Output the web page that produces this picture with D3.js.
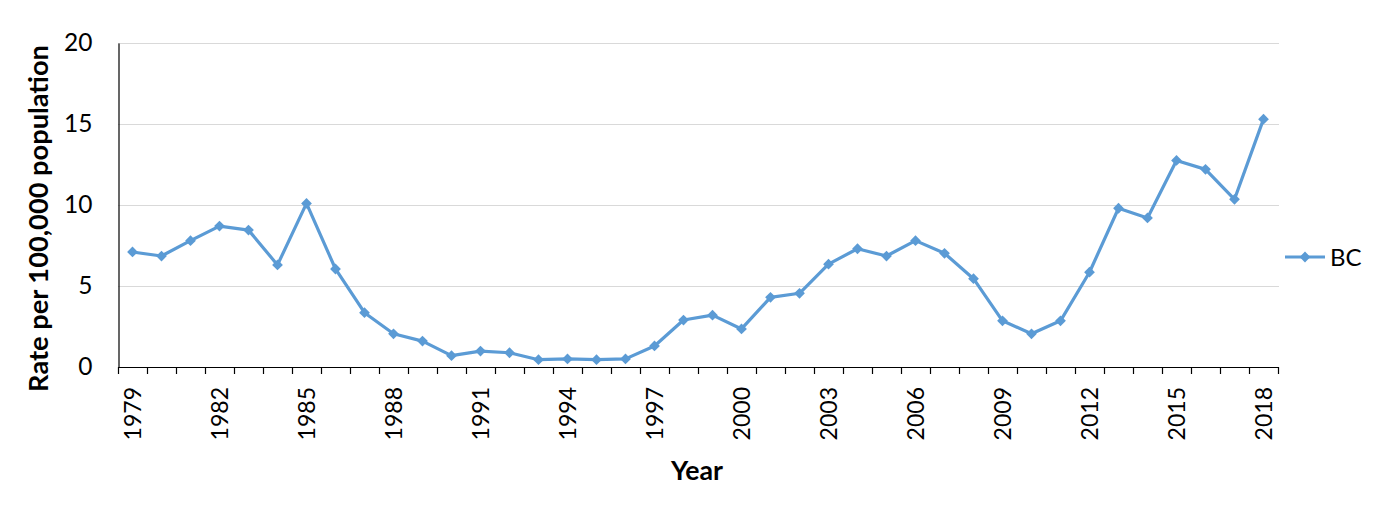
<!DOCTYPE html>
<html>
<head>
<meta charset="utf-8">
<script src="https://cdn.jsdelivr.net/npm/d3@7"></script>
<style>
  html, body { margin: 0; padding: 0; background: #fff; }
  svg { display: block; }
  text { font-family: Lato, "Open Sans", sans-serif; fill: #000; }
</style>
</head>
<body>
<svg id="chart" width="1382" height="514"></svg>
<script>
const years = d3.range(1979, 2019).map(String);
const bcValues = [7.1, 6.85, 7.8, 8.7, 8.45, 6.3, 10.1, 6.05, 3.35, 2.05,
                  1.6, 0.7, 0.98, 0.88, 0.45, 0.5, 0.45, 0.5, 1.3, 2.9,
                  3.2, 2.35, 4.3, 4.55, 6.35, 7.3, 6.85, 7.8, 7.02, 5.45,
                  2.85, 2.05, 2.85, 5.85, 9.8, 9.2, 12.75, 12.2, 10.35, 15.3];
const yTicks = [0, 5, 10, 15, 20];
const yearLabels = years.filter((d, i) => i % 3 === 0);
const seriesName = "BC";
const yTitle = "Rate per 100,000 population";
const xTitle = "Year";

(function () {
const svg = d3.select("#chart");
const mLeft = 118, mRight = 1278, mTop = 43, mBottom = 367;
const color = "#5B9BD5";

const x = d3.scaleBand().domain(years).range([mLeft, mRight]).paddingInner(0).paddingOuter(0);
const y = d3.scaleLinear().domain([0, 20]).range([mBottom, mTop]);

// gridlines
svg.append("g").selectAll("line").data(yTicks.filter(d => d > 0)).join("line")
  .attr("x1", mLeft).attr("x2", mRight + 1)
  .attr("y1", d => Math.round(y(d)) + 0.5).attr("y2", d => Math.round(y(d)) + 0.5)
  .attr("stroke", "#D9D9D9").attr("stroke-width", 1);

// y axis
const yAxis = svg.append("g").attr("transform", `translate(${mLeft + 0.5},0)`)
  .call(d3.axisLeft(y).tickValues(yTicks).tickSize(0).tickPadding(26));
yAxis.select(".domain").attr("stroke", "#000").attr("stroke-width", 1.2);
yAxis.selectAll("text").style("font-size", "24.5px").attr("fill", "#000");

// x axis
const boundaries = d3.range(0, years.length + 1);
const gx = svg.append("g");
gx.append("line").attr("x1", mLeft).attr("x2", mRight + 1)
  .attr("y1", mBottom + 0.5).attr("y2", mBottom + 0.5).attr("stroke", "#000").attr("stroke-width", 1.2);
gx.selectAll("line.tick").data(boundaries).join("line").attr("class", "tick")
  .attr("x1", i => Math.round(mLeft + i * x.step()) + 0.5)
  .attr("x2", i => Math.round(mLeft + i * x.step()) + 0.5)
  .attr("y1", mBottom).attr("y2", mBottom + 7)
  .attr("stroke", "#000").attr("stroke-width", 1.2);
gx.selectAll("text").data(yearLabels).join("text")
  .attr("transform", d => `translate(${x(d) + x.bandwidth() / 2},${mBottom + 20}) rotate(-90)`)
  .attr("text-anchor", "end").attr("dy", "0.36em")
  .style("font-size", "23px").text(d => d);

// line
const line = d3.line().x((d, i) => x(years[i]) + x.bandwidth() / 2).y(d => y(d));
svg.append("path").datum(bcValues).attr("d", line)
  .attr("fill", "none").attr("stroke", color).attr("stroke-width", 3.2).attr("stroke-linejoin", "round");

const diamond = d3.symbol().type(d3.symbolSquare).size(58);
svg.append("g").selectAll("path").data(bcValues).join("path")
  .attr("d", diamond)
  .attr("transform", (d, i) => `translate(${x(years[i]) + x.bandwidth() / 2},${y(d)}) rotate(45)`)
  .attr("fill", color);

// axis titles
function fit(sel, target) {
  const len = sel.node().getComputedTextLength();
  const fs = parseFloat(sel.style("font-size"));
  sel.style("font-size", (fs * target / len) + "px");
}
const yt = svg.append("text")
  .attr("transform", `translate(48,${(45 + 392) / 2}) rotate(-90)`)
  .attr("text-anchor", "middle").style("font-weight", "bold").style("font-size", "21px").text(yTitle);
fit(yt, 347);
const xt = svg.append("text").attr("x", 697).attr("y", 480)
  .attr("text-anchor", "middle").style("font-weight", "bold").style("font-size", "22px").text(xTitle);
fit(xt, 52);

// legend
const lg = svg.append("g").attr("transform", "translate(1285,257)");
lg.append("line").attr("x1", 0).attr("x2", 40).attr("y1", 0).attr("y2", 0)
  .attr("stroke", color).attr("stroke-width", 3.2);
lg.append("path").attr("d", diamond).attr("transform", "translate(20,0) rotate(45)").attr("fill", color);
lg.append("text").attr("x", 45).attr("y", 0).attr("dy", "0.36em").style("font-size", "24px").text(seriesName);
})();
</script>
</body>
</html>
